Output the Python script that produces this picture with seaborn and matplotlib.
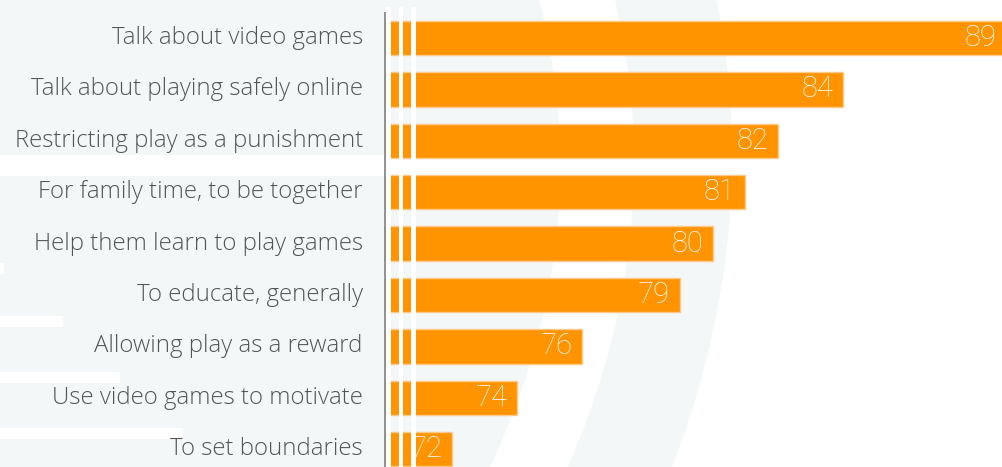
import numpy as np
import pandas as pd
import matplotlib
matplotlib.use("Agg")
import matplotlib.pyplot as plt
from matplotlib.patches import Rectangle
from matplotlib.transforms import ScaledTranslation
import seaborn as sns

# --- data -------------------------------------------------------------
categories = [
    "Talk about video games",
    "Talk about playing safely online",
    "Restricting play as a punishment",
    "For family time, to be together",
    "Help them learn to play games",
    "To educate, generally",
    "Allowing play as a reward",
    "Use video games to motivate",
    "To set boundaries",
]
values = [89, 84, 82, 81, 80, 79, 76, 74, 72]

# --- style ------------------------------------------------------------
ORANGE = "#FF9400"
EDGE = "#FFC98A"
GRAY_BG = "#F3F7F8"
LABEL = "#555555"
W, H = 1002, 467

sns.set_theme(style="white")
plt.rcParams["font.family"] = ["Open Sans", "DejaVu Sans"]

fig = plt.figure(figsize=(W / 100, H / 100), dpi=100)
fig.patch.set_facecolor("white")

# decorative backdrop, in pixel units
bg = fig.add_axes([0, 0, 1, 1], zorder=0)
bg.set_xlim(0, W)
bg.set_ylim(H, 0)
bg.axis("off")
ys = np.linspace(0, H, 300)


def arc(p_top, p_mid, p_bot):
    pts = [p_top, p_mid, p_bot]
    c = np.polyfit([p[1] for p in pts], [p[0] for p in pts], 2)
    return np.polyval(c, ys)


a1 = arc((539, 0), (560, 190), (490, H))
a2 = arc((615, 0), (633, 200), (568, H))
a3 = arc((717, 0), (732, 170), (672, H))
bg.fill_betweenx(ys, 0, a1, color=GRAY_BG, lw=0)
bg.fill_betweenx(ys, a2, a3, color=GRAY_BG, lw=0)
bg.add_patch(Rectangle((0, 155), W, 21, color="white", lw=0))
for y0, x1 in [(263, 4), (316, 63), (372, 120), (428, 183)]:
    bg.add_patch(Rectangle((0, y0), x1, 11, color="white", lw=0))

# --- bars -------------------------------------------------------------
df = pd.DataFrame({"category": categories, "value": values})
ax = fig.add_axes([385 / W, 0, (W - 385) / W, 1], zorder=1)
ax.patch.set_alpha(0)
sns.barplot(data=df, x="value", y="category", orient="h", color=ORANGE,
            saturation=1, width=0.67, edgecolor=EDGE, linewidth=1, ax=ax)
ax.set_xlim(69.945, 88.88)
ax.set_ylim(8.346, -0.739)
ax.set_xlabel("")
ax.set_ylabel("")
ax.set_xticks([])
for s in ax.spines.values():
    s.set_visible(False)
ax.tick_params(axis="y", length=0, pad=16)
lift = ScaledTranslation(0, 3 / 100, fig.dpi_scale_trans)
for t in ax.get_yticklabels():
    t.set_fontsize(17.3)
    t.set_fontweight("light")
    t.set_color(LABEL)
    t.set_transform(t.get_transform() + lift)

for i, v in enumerate(values):
    ax.annotate(str(v), xy=(v, i), xytext=(-7, 0), textcoords="offset points",
                ha="right", va="center", color="white", fontsize=21,
                family=["Roboto", "DejaVu Sans"], fontweight="light",
                annotation_clip=False)

# axis line and the break stripes across the bar bases
ov = fig.add_axes([0, 0, 1, 1], zorder=2)
ov.set_xlim(0, W)
ov.set_ylim(H, 0)
ov.axis("off")
ov.plot([385.5, 385.5], [12, H], color="#8a8a8a", lw=1.3, solid_capstyle="butt")
for x0, x1 in [(386.5, 391), (399, 403), (411.5, 416)]:
    ov.add_patch(Rectangle((x0, 7), x1 - x0, H - 7, color="white", lw=0))

fig.savefig("out.png", dpi=100, facecolor=fig.get_facecolor())
